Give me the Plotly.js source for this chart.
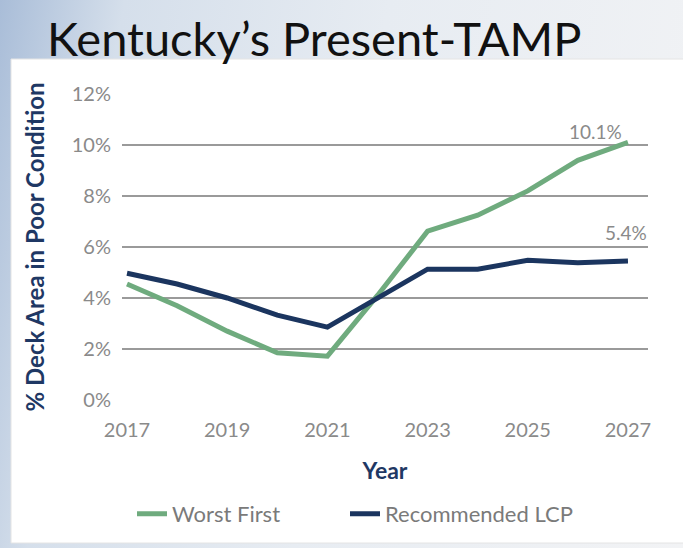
<!DOCTYPE html>
<html>
<head>
<meta charset="utf-8">
<script src="https://cdn.plot.ly/plotly-3.0.1.min.js"></script>
<style>
  html, body { margin: 0; padding: 0; }
  body { width: 683px; height: 548px; position: relative; overflow: hidden;
         background: #ececec; }
  #bg { position: absolute; left: 0; top: 0; width: 683px; height: 548px;
        background: linear-gradient(100deg, #a9bdd8 0%, #d5dfeb 16%, #e7ecf2 50%, #f2f3f5 100%); }
  #myPlot { position: absolute; left: 0; top: 0; }
</style>
</head>
<body>
<div id="bg"></div>
<div id="myPlot"></div>
<script>
// years on the x axis
var years = [2017, 2018, 2019, 2020, 2021, 2022, 2023, 2024, 2025, 2026, 2027];

// % deck area in poor condition
var worstFirst = [4.55, 3.7, 2.7, 1.85, 1.72, 4.1, 6.62, 7.25, 8.2, 9.4, 10.1];
var recommendedLCP = [4.97, 4.55, 4.0, 3.33, 2.86, 4.0, 5.13, 5.13, 5.48, 5.38, 5.45];

// end labels
var endLabels = ['10.1%', '5.4%'];

var Worst = {
    type: 'scatter',
    x: years,
    y: worstFirst,
    mode: 'lines',
    name: 'Worst First',
    legend: 'legend',
    line: { color: '#6fab7e', width: 5 }
};

var LCP = {
    type: 'scatter',
    x: years,
    y: recommendedLCP,
    mode: 'lines',
    name: 'Recommended LCP',
    legend: 'legend2',
    line: { color: '#1b355f', width: 5 }
};

var data = [Worst, LCP];

var tickFont = { family: 'Lato, sans-serif', size: 20, color: '#8a8a8a' };
var labelFont = { family: 'Lato, sans-serif', size: 19, color: '#8a8a8a' };
var legendFont = { family: 'Lato, sans-serif', size: 22, color: '#7a7a7a' };
var navy = '#1f3864';

var layout = {
    width: 683,
    height: 548,
    paper_bgcolor: 'rgba(0,0,0,0)',
    plot_bgcolor: 'rgba(0,0,0,0)',
    margin: { l: 122, r: 35, t: 94, b: 148 },
    showlegend: true,
    title: {
        text: 'Kentucky\u2019s Present-TAMP',
        font: { family: 'Lato, sans-serif', size: 47, color: '#111111' },
        x: 47 / 683,
        xanchor: 'left',
        y: 1 - 40 / 548,
        yanchor: 'middle'
    },
    xaxis: {
        range: [2016.9, 2027.4],
        tickvals: [2017, 2019, 2021, 2023, 2025, 2027],
        showgrid: false,
        zeroline: false,
        showline: false,
        ticks: '',
        tickfont: tickFont,
        ticklabelstandoff: 16,
        title: {
            text: '<b>Year</b>',
            font: { family: 'Lato, sans-serif', size: 23, color: navy },
            standoff: 22
        }
    },
    yaxis: {
        range: [0, 12],
        tickvals: [0, 2, 4, 6, 8, 10, 12],
        ticktext: ['0%', '2%', '4%', '6%', '8%', '10%', '12%'],
        showgrid: true,
        gridcolor: '#9a9a9a',
        gridwidth: 1.5,
        zeroline: false,
        showline: false,
        ticks: '',
        tickfont: tickFont,
        ticklabelstandoff: 10,
        title: {
            text: '<b>% Deck Area in Poor Condition</b>',
            font: { family: 'Lato, sans-serif', size: 24, color: navy },
            standoff: 20
        }
    },
    legend: {
        orientation: 'h',
        x: 10 / 526,
        xanchor: 'left',
        y: -0.372,
        yanchor: 'middle',
        font: legendFont
    },
    legend2: {
        orientation: 'h',
        x: 223 / 526,
        xanchor: 'left',
        y: -0.372,
        yanchor: 'middle',
        font: legendFont
    },
    annotations: [
        {
            x: years[years.length - 1], y: worstFirst[worstFirst.length - 1],
            xref: 'x', yref: 'y',
            text: endLabels[0], showarrow: false,
            xanchor: 'center', yanchor: 'middle',
            xshift: -32, yshift: 11,
            font: labelFont
        },
        {
            x: years[years.length - 1], y: recommendedLCP[recommendedLCP.length - 1],
            xref: 'x', yref: 'y',
            text: endLabels[1], showarrow: false,
            xanchor: 'center', yanchor: 'middle',
            xshift: -2, yshift: 29,
            font: labelFont
        }
    ],
    shapes: [
        {
            // white chart panel
            type: 'rect', xref: 'paper', yref: 'paper', layer: 'below',
            x0: -111 / 526, x1: 1.1, y0: -143 / 306, y1: 1 + 35 / 306,
            fillcolor: '#ffffff', line: { color: '#e4e4e4', width: 1 }
        }
    ]
};

Plotly.newPlot('myPlot', data, layout, { displayModeBar: false });
</script>
</body>
</html>
